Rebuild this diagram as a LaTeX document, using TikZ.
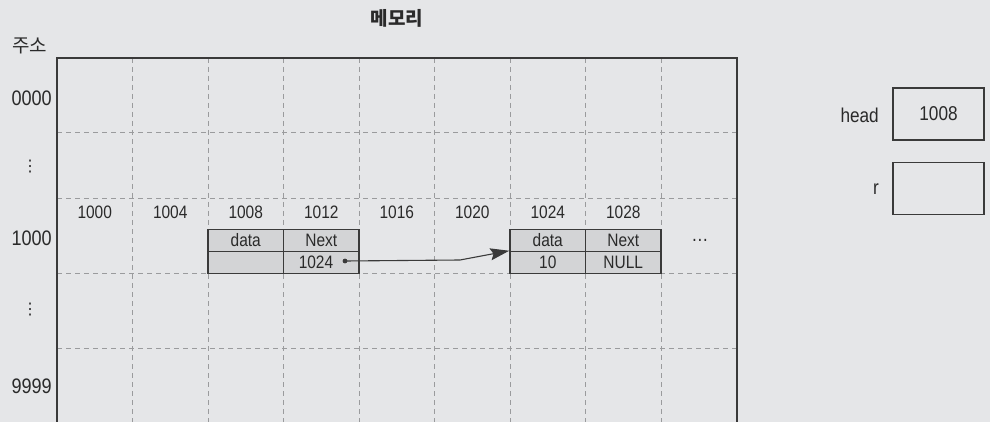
\documentclass[tikz,border=0pt]{standalone}
\usepackage{fontspec}
\setmainfont[FakeStretch=0.86]{Liberation Sans}
\newfontfamily\kofont{Noto Sans CJK KR}
\newfontfamily\symfont{DejaVu Sans}
\usetikzlibrary{arrows.meta}
\definecolor{bg}{HTML}{E5E6E8}
\definecolor{cellfill}{HTML}{D3D4D6}
\definecolor{gridc}{HTML}{9A9B9D}
\definecolor{edge}{HTML}{3A3A3A}
\definecolor{txt}{HTML}{2A2A2A}
\tikzset{
  lbl/.style={font=\fontsize{20}{20}\selectfont, text=txt, inner sep=0pt},
  kolbl/.style={font=\kofont\fontsize{18}{18}\selectfont, text=txt, inner sep=0pt},
  cell/.style={draw=edge, line width=1.5pt, fill=cellfill, minimum width=75.5pt, minimum height=22pt, inner sep=0pt, font=\fontsize{18}{18}\selectfont, text=txt},
  gridline/.style={draw=gridc, line width=0.8pt, dash pattern=on 5pt off 4pt},
  regbox/.style={draw=edge, line width=1.1pt, minimum width=91pt, minimum height=52pt, inner sep=0pt, font=\fontsize{20}{20}\selectfont, text=txt},
}
\begin{document}
\begin{tikzpicture}[x=1pt,y=-1pt]
\fill[bg] (0,0) rectangle (990,422);
\useasboundingbox (0,0) rectangle (990,422);
% grid
\foreach \x in {132.5,208,283.5,359,434.5,510,585.5,661} {
  \draw[gridline] (\x,58) -- (\x,422);
}
\foreach \y in {132,198,273,348} {
  \draw[gridline] (57,\y) -- (737,\y);
}
% memory frame
\draw[edge, line width=1.3pt] (57,422) -- (57,58) -- (737,58) -- (737,422);
% title and address labels
\node[kolbl, font=\kofont\bfseries\fontsize{19}{19}\selectfont] (title) at (397,18) {메모리};
\node[kolbl, font=\kofont\fontsize{19}{19}\selectfont] (addr) at (29.5,46) {주소};
\node[lbl, anchor=east, font=\fontsize{21}{21}\selectfont] (a0) at (52,98) {0000};
\node[lbl, font=\symfont\fontsize{16}{16}\selectfont] (d1) at (30,167) {⋮};
\node[lbl, anchor=east, font=\fontsize{21}{21}\selectfont] (a1) at (52,238) {1000};
\node[lbl, font=\symfont\fontsize{16}{16}\selectfont] (d2) at (30,310) {⋮};
\node[lbl, anchor=east, font=\fontsize{21}{21}\selectfont] (a2) at (52,386) {9999};
% column addresses
\foreach \c/\t in {94.75/1000,170.25/1004,245.75/1008,321.25/1012,396.75/1016,472.25/1020,547.75/1024,623.25/1028} {
  \node[lbl, font=\fontsize{18}{18}\selectfont] (c\t) at (\c,212) {\t};
}
% node 1
\node[cell] (n1d) at (245.75,240.5) {data};
\node[cell] (n1n) at (321.25,240.5) {Next};
\node[cell] (n1v) at (245.75,262.5) {};
\node[cell] (n1p) at (321.25,262.5) {};
\node[lbl, font=\fontsize{18}{18}\selectfont] (n1ptxt) at (316,262.5) {1024};
% node 2
\node[cell] (n2d) at (547.75,240.5) {data};
\node[cell] (n2n) at (623.25,240.5) {Next};
\node[cell] (n2v) at (547.75,262.5) {10};
\node[cell] (n2p) at (623.25,262.5) {NULL};
\node[lbl] (dots) at (700,240) {\textellipsis};
% pointer arrow
\coordinate (src) at (345,261);
\coordinate (bend) at (460,260);
\fill[edge] (src) circle (2.4pt);
\draw[edge, line width=1.1pt, -{Stealth[length=19pt,width=12pt,inset=3pt]}] (src) -- (bend) -- (n2v.north west);
% head and r
\node[regbox] (head) at (938.5,114) {1008};
\node[lbl, anchor=east] (headl) at (879,115) {head};
\node[regbox] (r) at (938.5,188.5) {};
\node[lbl, anchor=east] (rl) at (879,189) {r};
\end{tikzpicture}
\end{document}
